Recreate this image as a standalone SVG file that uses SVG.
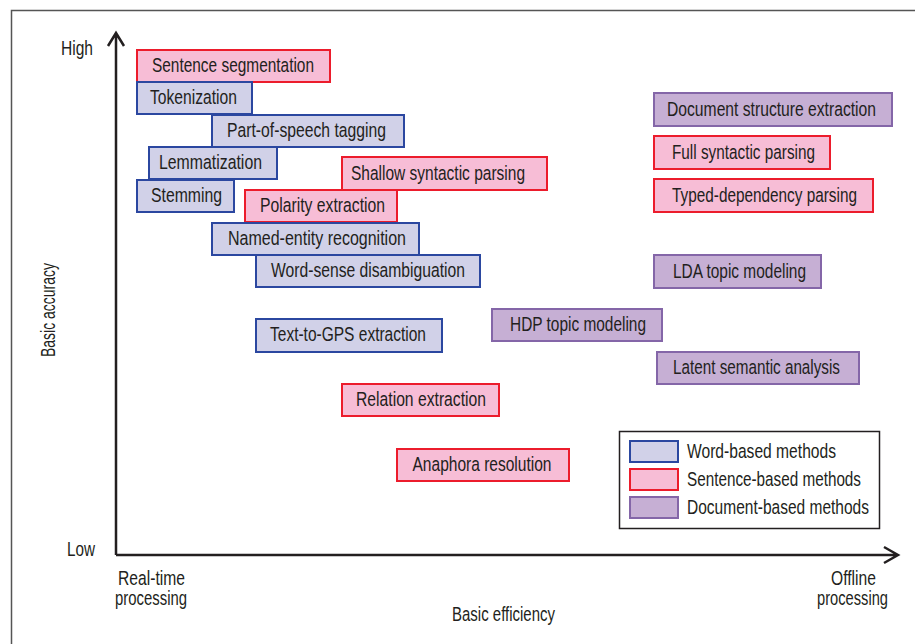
<svg xmlns="http://www.w3.org/2000/svg" width="915" height="644" viewBox="0 0 915 644">
<style>
text{font-family:"Liberation Sans Narrow","Liberation Sans",Arial,sans-serif;fill:#231f20;font-size:20.5px}
.n text{text-anchor:middle}
.w rect{fill:#d1d1e8;stroke:#2b47a0;stroke-width:2}
.s rect{fill:#f7bdd6;stroke:#ec1c2c;stroke-width:2}
.d rect{fill:#c6afd4;stroke:#8466a8;stroke-width:2}
.ax{stroke:#231f20;stroke-width:2.5;fill:none}
</style>
<rect x="0" y="0" width="915" height="644" fill="#fff"/>
<path d="M11.5 660 V10.5 H930" fill="none" stroke="#555" stroke-width="1.5"/>
<g id="axes">
<path class="ax" d="M116 555 V34 M108 46 L116 33 L124 46"/>
<path class="ax" d="M116 555 H897 M884 547 L898 555 L884 563"/>
<text x="61" y="55" textLength="32" lengthAdjust="spacingAndGlyphs">High</text>
<text x="67" y="556" textLength="28" lengthAdjust="spacingAndGlyphs">Low</text>
<text x="118" y="585" textLength="67" lengthAdjust="spacingAndGlyphs">Real-time</text>
<text x="115" y="605" textLength="72" lengthAdjust="spacingAndGlyphs">processing</text>
<text x="452" y="621" textLength="103" lengthAdjust="spacingAndGlyphs">Basic efficiency</text>
<text x="831" y="585" textLength="45" lengthAdjust="spacingAndGlyphs">Offline</text>
<text x="817" y="605" textLength="71" lengthAdjust="spacingAndGlyphs">processing</text>
<text transform="translate(55 357) rotate(-90)" textLength="94" lengthAdjust="spacingAndGlyphs">Basic accuracy</text>
</g>
<g class="n">
<g id="sentence-segmentation" class="s"><rect x="137" y="50" width="193" height="32"/><text x="233" y="72" textLength="162" lengthAdjust="spacingAndGlyphs">Sentence segmentation</text></g>
<g id="tokenization" class="w"><rect x="137" y="82" width="115" height="32"/><text x="193.5" y="104" textLength="87" lengthAdjust="spacingAndGlyphs">Tokenization</text></g>
<g id="pos-tagging" class="w"><rect x="212" y="115" width="192" height="32"/><text x="306.5" y="137" textLength="159" lengthAdjust="spacingAndGlyphs">Part-of-speech tagging</text></g>
<g id="lemmatization" class="w"><rect x="149" y="147" width="128" height="32"/><text x="210.5" y="169" textLength="103" lengthAdjust="spacingAndGlyphs">Lemmatization</text></g>
<g id="stemming" class="w"><rect x="137" y="180" width="97" height="32"/><text x="186.5" y="202" textLength="71" lengthAdjust="spacingAndGlyphs">Stemming</text></g>
<g id="shallow-parsing" class="s"><rect x="342" y="157" width="205" height="33"/><text x="438" y="180" textLength="174" lengthAdjust="spacingAndGlyphs">Shallow syntactic parsing</text></g>
<g id="polarity-extraction" class="s"><rect x="245" y="190" width="152" height="32"/><text x="322.5" y="212" textLength="125" lengthAdjust="spacingAndGlyphs">Polarity extraction</text></g>
<g id="named-entity" class="w"><rect x="212" y="223" width="207" height="32"/><text x="317" y="245" textLength="178" lengthAdjust="spacingAndGlyphs">Named-entity recognition</text></g>
<g id="word-sense" class="w"><rect x="256" y="255" width="224" height="32"/><text x="368" y="277" textLength="194" lengthAdjust="spacingAndGlyphs">Word-sense disambiguation</text></g>
<g id="text-to-gps" class="w"><rect x="256" y="319" width="186" height="33"/><text x="348" y="341" textLength="156" lengthAdjust="spacingAndGlyphs">Text-to-GPS extraction</text></g>
<g id="relation-extraction" class="s"><rect x="342" y="384" width="157" height="32"/><text x="421" y="406" textLength="130" lengthAdjust="spacingAndGlyphs">Relation extraction</text></g>
<g id="anaphora-resolution" class="s"><rect x="397" y="449" width="172" height="32"/><text x="482" y="471" textLength="139" lengthAdjust="spacingAndGlyphs">Anaphora resolution</text></g>
<g id="document-structure" class="d"><rect x="654" y="93" width="238" height="33"/><text x="771.5" y="116" textLength="209" lengthAdjust="spacingAndGlyphs">Document structure extraction</text></g>
<g id="full-parsing" class="s"><rect x="654" y="136" width="176" height="33"/><text x="743.5" y="159" textLength="143" lengthAdjust="spacingAndGlyphs">Full syntactic parsing</text></g>
<g id="typed-dependency" class="s"><rect x="654" y="179" width="219" height="33"/><text x="764.5" y="202" textLength="185" lengthAdjust="spacingAndGlyphs">Typed-dependency parsing</text></g>
<g id="lda" class="d"><rect x="654" y="255" width="167" height="33"/><text x="739.5" y="278" textLength="133" lengthAdjust="spacingAndGlyphs">LDA topic modeling</text></g>
<g id="hdp" class="d"><rect x="492" y="309" width="170" height="32"/><text x="578" y="331" textLength="136" lengthAdjust="spacingAndGlyphs">HDP topic modeling</text></g>
<g id="lsa" class="d"><rect x="657" y="352" width="202" height="32"/><text x="756.5" y="374" textLength="167" lengthAdjust="spacingAndGlyphs">Latent semantic analysis</text></g>
</g>
<g id="legend">
<rect x="619.5" y="431.5" width="260" height="97" fill="#fff" stroke="#231f20" stroke-width="1.5"/>
<g class="w"><rect x="630" y="441" width="48" height="21"/></g>
<g class="s"><rect x="630" y="469" width="48" height="21"/></g>
<g class="d"><rect x="630" y="497" width="48" height="21"/></g>
<text x="687" y="458" textLength="149" lengthAdjust="spacingAndGlyphs">Word-based methods</text>
<text x="687" y="486" textLength="174" lengthAdjust="spacingAndGlyphs">Sentence-based methods</text>
<text x="687" y="514" textLength="182" lengthAdjust="spacingAndGlyphs">Document-based methods</text>
</g>
<g id="connectors"></g>
</svg>
